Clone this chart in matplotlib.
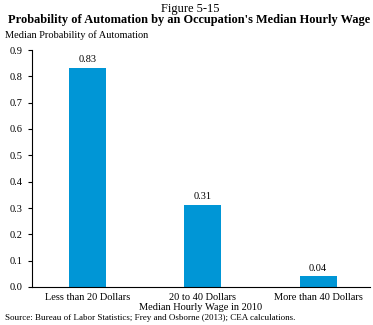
import matplotlib
matplotlib.use("Agg")
import matplotlib.pyplot as plt

categories = ["Less than 20 Dollars", "20 to 40 Dollars", "More than 40 Dollars"]
values = [0.83, 0.31, 0.04]
value_labels = ["0.83", "0.31", "0.04"]
yticks = [0.0, 0.1, 0.2, 0.3, 0.4, 0.5, 0.6, 0.7, 0.8, 0.9]

plt.rcParams["font.family"] = ["Liberation Serif", "DejaVu Serif"]

W, H = 373, 325
fig = plt.figure(figsize=(W / 100, H / 100), dpi=100)
ax = fig.add_axes([32 / W, 38 / H, 338 / W, 237 / H])

x = range(len(categories))
ax.bar(x, values, width=0.32, color="#0096d6")
for i, v in enumerate(values):
    ax.text(i, v + 0.015, value_labels[i], ha="center", va="bottom", fontsize=7.5)

ax.set_xlim(-0.48, 2.45)
ax.set_ylim(0, 0.9)
ax.set_yticks(yticks)
ax.set_yticklabels([f"{t:.1f}" for t in yticks], fontsize=7.5)
ax.set_xticks(list(x))
ax.set_xticklabels(categories, fontsize=7.5)
ax.tick_params(axis="x", length=0, pad=4)
ax.tick_params(axis="y", length=3, pad=4)
ax.spines["top"].set_visible(False)
ax.spines["right"].set_visible(False)
ax.spines["left"].set_linewidth(0.8)
ax.spines["bottom"].set_linewidth(0.8)
ax.set_xlabel("Median Hourly Wage in 2010", fontsize=7.5, labelpad=1)

fig.text(190 / W, 1 - 9 / H, "Figure 5-15", ha="center", va="center", fontsize=9)
fig.text(189 / W, 1 - 20 / H, "Probability of Automation by an Occupation's Median Hourly Wage",
         ha="center", va="center", fontsize=8.9, fontweight="bold")
fig.text(5 / W, 1 - 35 / H, "Median Probability of Automation", ha="left", va="center", fontsize=7.5)
fig.text(5 / W, 1 - 318 / H, "Source: Bureau of Labor Statistics; Frey and Osborne (2013); CEA calculations.",
         ha="left", va="center", fontsize=6.5)

fig.savefig("out.png", dpi=100)
